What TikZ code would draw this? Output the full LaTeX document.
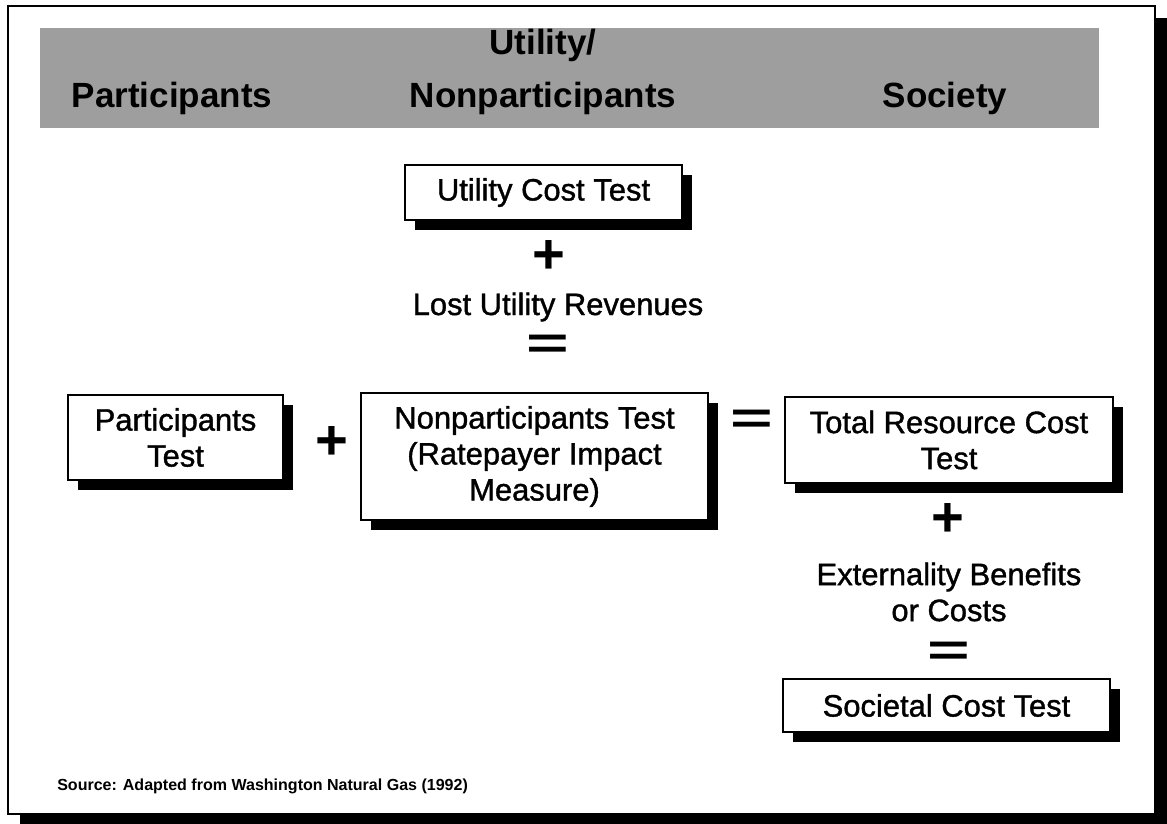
\documentclass[tikz,border=0pt]{standalone}
\usepackage{fontspec}
\setmainfont{Liberation Sans}
\newfontfamily\heavysans{Liberation Sans}[RawFeature={embolden=1.2}]
\usepackage{tikz}
\usetikzlibrary{shadows}

\begin{document}
\begin{tikzpicture}[x=0.025cm, y=-0.025cm,
    testbox/.style={draw, line width=1.4pt, fill=white, align=center, inner sep=0pt,
        font=\heavysans\fontsize{22}{25.6}\selectfont,
        general shadow={fill=black, shadow xshift=0.25cm, shadow yshift=-0.25cm}},
    header/.style={font=\bfseries\fontsize{24.9}{28}\selectfont, inner sep=0pt, anchor=base},
    term/.style={font=\heavysans\fontsize{22}{25.6}\selectfont, align=center, inner sep=0pt},
    sign/.style={font=\bfseries\fontsize{40}{40}\selectfont, inner sep=0pt}]

    % page, framed panel and its shadow
    \useasboundingbox (0,0) rectangle (1167,824);
    \fill[white] (0,0) rectangle (1167,824);
    \fill[black] (20,18) rectangle (1167,824);
    \draw[line width=1.8pt, fill=white] (8,6) rectangle (1155,814);

    % column headings
    \fill[black!38] (40,28) rectangle (1099,128);
    \node[header] (hutil) at (543,54) {Utility/};
    \node[header] (hpart) at (172,107) {Participants};
    \node[header] (hnon) at (543,107) {Nonparticipants};
    \node[header] (hsoc) at (945,107) {Society};

    % middle column
    \node[testbox, minimum width=6.925cm, minimum height=1.375cm] (uct) at (543.5,192.5) {Utility Cost Test};
    \node[sign] (plusA) at (549,257) {+};
    \node[term] (lost) at (558,307) {Lost Utility Revenues};
    \node[sign] (eqA) at (548,347) {\scalebox{1.3}[0.8]{=}};

    % main row
    \node[testbox, minimum width=5.375cm, minimum height=2.125cm] (part) at (175.5,437.5) {Participants\\Test};
    \node[sign] (plusB) at (332,443) {+};
    \node[testbox, minimum width=8.675cm, minimum height=3.175cm] (nonpart) at (534.5,456.5)
        {Nonparticipants Test\\(Ratepayer Impact\\Measure)};
    \node[sign] (eqB) at (752,422) {\scalebox{1.3}[0.8]{=}};
    \node[testbox, minimum width=8.2cm, minimum height=2.15cm] (trc) at (949,440) {Total Resource Cost\\Test};

    % right column
    \node[sign] (plusC) at (948,520) {+};
    \node[term] (ext) at (949,592) {Externality Benefits\\or Costs};
    \node[sign] (eqC) at (949,654) {\scalebox{1.3}[0.8]{=}};
    \node[testbox, minimum width=8.175cm, minimum height=1.325cm] (soc) at (946.5,705.5) {Societal Cost Test};

    \node[font=\bfseries\fontsize{11.4}{13}\selectfont, inner sep=0pt, anchor=base west] (src) at (57,790)
        {Source: Adapted from Washington Natural Gas (1992)};
\end{tikzpicture}
\end{document}
